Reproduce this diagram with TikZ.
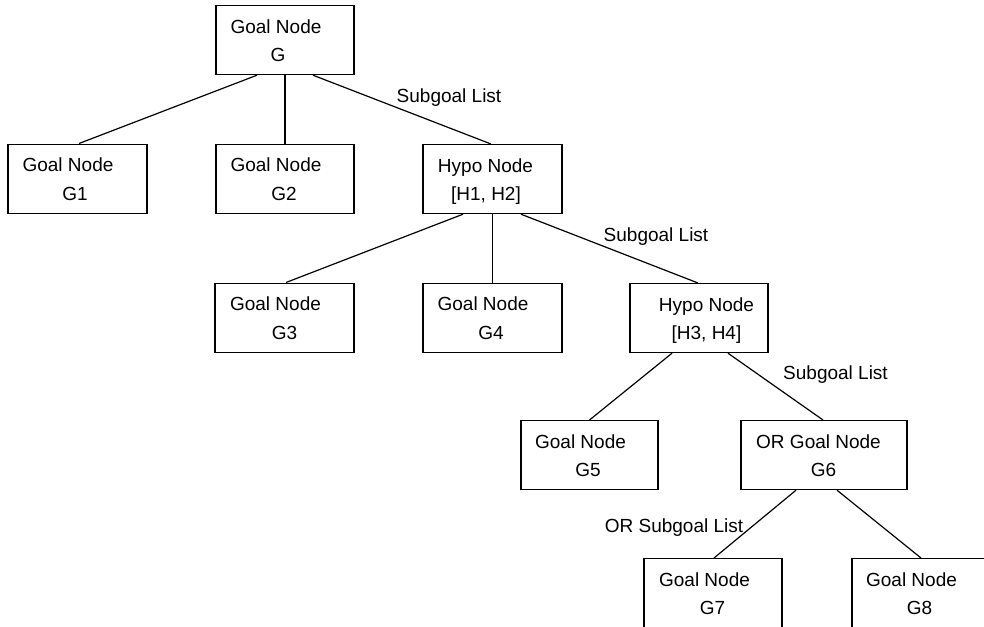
\documentclass[tikz,border=0pt]{standalone}
\usepackage{fontspec}
\setmainfont{Liberation Sans}
\tikzset{
  box/.style={draw=black, line width=1.2pt, minimum height=69pt, inner sep=0pt, anchor=north},
  txt/.style={anchor=base, inner sep=0pt, font=\fontsize{19}{23}\selectfont},
  lbl/.style={anchor=base, inner sep=0pt, font=\fontsize{19}{23}\selectfont},
  conn/.style={draw=black, line width=1.2pt}
}
% #1 name, #2 x (centre), #3 y (top), #4 line1, #5 line2, #6 dx1, #7 dx2, #8 box options
\newcommand\gbox[8]{%
  \node[box,#8] (#1) at (#2,#3) {};
  \node[txt] (#1a) at ([shift={(#6,28.3)}]#1.north) {#4};
  \node[txt] (#1b) at ([shift={(#7,56.7)}]#1.north) {#5};
}
\begin{document}
\begin{tikzpicture}[x=1pt,y=-1pt]
\useasboundingbox (0,0) rectangle (984,626);
\clip (0,0) rectangle (984,626);
\gbox{G}{285}{5}{Goal Node}{G}{-9}{-7}{minimum width=138pt}
\gbox{Ga}{77.5}{143.5}{Goal Node}{G1}{-9.5}{-2.5}{minimum width=139pt}
\gbox{Gb}{285}{143.5}{Goal Node}{G2}{-9}{-1}{minimum width=138pt}
\gbox{Ha}{492.5}{144}{Hypo Node}{[H1, H2]}{-7}{-6.5}{minimum width=139pt}
\gbox{Gc}{284.5}{282.5}{Goal Node}{G3}{-9}{0}{minimum width=139pt}
\gbox{Gd}{492.5}{282.5}{Goal Node}{G4}{-9.5}{-1.5}{minimum width=139pt}
\gbox{Hb}{699}{283}{Hypo Node}{[H3, H4]}{7.5}{7.5}{minimum width=138pt}
\gbox{Ge}{589.5}{420}{Goal Node}{G5}{-9}{-1.5}{minimum width=137pt}
\gbox{Gf}{824}{420}{OR Goal Node}{G6}{-5.5}{-0.5}{minimum width=166pt}
\gbox{Gg}{713}{558}{Goal Node}{G7}{-8.5}{-0.5}{minimum width=138pt,minimum height=80pt}
\gbox{Gh}{921}{558}{Goal Node}{G8}{-9.5}{-1.5}{minimum width=138pt,minimum height=80pt}
% connectors
\draw[conn] ([xshift=-28pt]G.south) -- ([xshift=1.5pt]Ga.north);
\draw[conn] (G.south) -- (Gb.north);
\draw[conn] ([xshift=28pt]G.south) -- ([xshift=-1.5pt]Ha.north);
\draw[conn] ([xshift=-29.5pt]Ha.south) -- ([xshift=1.5pt]Gc.north);
\draw[conn] (Ha.south) -- (Gd.north);
\draw[conn] ([xshift=28.5pt]Ha.south) -- ([xshift=-1pt]Hb.north);
\draw[conn] ([xshift=-27pt]Hb.south) -- (Ge.north);
\draw[conn] ([xshift=29pt]Hb.south) -- ([xshift=-1pt]Gf.north);
\draw[conn] ([xshift=-28pt]Gf.south) -- ([xshift=1pt]Gg.north);
\draw[conn] ([xshift=13pt]Gf.south) -- (Gh.north);
% labels
\node[lbl] (L1) at (449,102) {Subgoal List};
\node[lbl] (L2) at (656,241) {Subgoal List};
\node[lbl] (L3) at (835.5,379) {Subgoal List};
\node[lbl] (L4) at (674,532) {OR Subgoal List};
\end{tikzpicture}
\end{document}
